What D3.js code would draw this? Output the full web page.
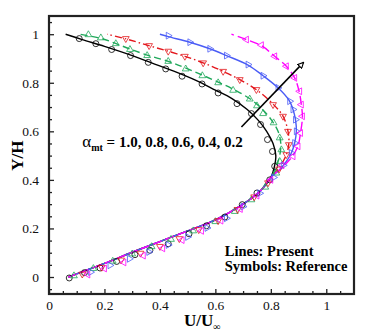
<!DOCTYPE html>
<html>
<head>
<meta charset="utf-8">
<script src="https://cdn.jsdelivr.net/npm/d3@7"></script>
<style>
  body { margin: 0; background: #fff; }
  text { font-family: "Liberation Serif", "DejaVu Serif", serif; }
</style>
</head>
<body>
<div id="chart"></div>
<script>
// chart size
var svgWidth = 374;
var svgHeight = 332;
var margin = { top: 16, right: 20, bottom: 38, left: 49 };
var width = svgWidth - margin.left - margin.right;
var height = svgHeight - margin.top - margin.bottom;

// tick values / labels
var xTicks = [0, 0.2, 0.4, 0.6, 0.8, 1];
var xTickLabels = ["0", "0.2", "0.4", "0.6", "0.8", "1"];
var yTicks = [0, 0.2, 0.4, 0.6, 0.8, 1];
var yTickLabels = ["0", "0.2", "0.4", "0.6", "0.8", "1"];
var xMinor = [0.05, 0.1, 0.15, 0.25, 0.3, 0.35, 0.45, 0.5, 0.55, 0.65, 0.7, 0.75, 0.85, 0.9, 0.95, 1.05];
var yMinor = [-0.05, 0.05, 0.1, 0.15, 0.25, 0.3, 0.35, 0.45, 0.5, 0.55, 0.65, 0.7, 0.75, 0.85, 0.9, 0.95, 1.05];

// lines (present): [U/Uinf, Y/H]
var lineLower = [[0.07,0],[0.2,0.056],[0.3,0.102],[0.4,0.146],[0.5,0.19],[0.6,0.235],[0.7,0.3],[0.76,0.352],[0.8,0.41]];
var upperBlack = [[0.812,0.45],[0.818,0.5],[0.808,0.55],[0.785,0.6],[0.755,0.645],[0.715,0.69],[0.66,0.735],[0.6,0.77],[0.53,0.81],[0.45,0.848],[0.37,0.882],[0.29,0.916],[0.2,0.95],[0.12,0.978],[0.06,1.0]];
var upperGreen = [[0.818,0.45],[0.832,0.5],[0.836,0.55],[0.826,0.6],[0.8,0.65],[0.77,0.69],[0.73,0.73],[0.67,0.77],[0.61,0.803],[0.55,0.833],[0.49,0.862],[0.43,0.888],[0.354,0.914],[0.29,0.94],[0.24,0.962],[0.19,0.982],[0.11,1.0]];
var upperRed = [[0.83,0.45],[0.856,0.504],[0.865,0.55],[0.862,0.6],[0.845,0.66],[0.81,0.71],[0.75,0.77],[0.69,0.812],[0.628,0.847],[0.556,0.882],[0.49,0.909],[0.43,0.93],[0.36,0.953],[0.28,0.98],[0.21,1.0]];
var upperBlue = [[0.83,0.44],[0.856,0.476],[0.874,0.511],[0.886,0.552],[0.892,0.6],[0.889,0.648],[0.88,0.69],[0.866,0.727],[0.826,0.779],[0.772,0.829],[0.718,0.873],[0.64,0.912],[0.58,0.94],[0.508,0.967],[0.43,0.99],[0.4,1.0]];
var upperMagenta = [[0.835,0.445],[0.862,0.476],[0.88,0.5],[0.898,0.54],[0.907,0.593],[0.914,0.66],[0.91,0.71],[0.902,0.765],[0.886,0.82],[0.856,0.868],[0.814,0.909],[0.766,0.953],[0.712,0.978],[0.658,1.0]];

// symbols (reference)
var symBlack = [[0.073,-0.004],[0.128,0.018],[0.184,0.037],[0.244,0.064],[0.31,0.092],[0.364,0.11],[0.43,0.137],[0.505,0.178],[0.568,0.211],[0.634,0.247],[0.697,0.298],[0.75,0.346],[0.796,0.40],[0.814,0.456],[0.806,0.517],[0.788,0.566],[0.763,0.628],[0.73,0.673],[0.678,0.714],[0.61,0.758],[0.552,0.795],[0.48,0.827],[0.421,0.857],[0.358,0.884],[0.294,0.912],[0.226,0.937],[0.169,0.961],[0.109,0.982]];
var symGreen = [[0.09,0.005],[0.16,0.035],[0.23,0.065],[0.3,0.095],[0.37,0.125],[0.44,0.155],[0.52,0.19],[0.6,0.228],[0.67,0.27],[0.73,0.318],[0.78,0.37],[0.82,0.428],[0.832,0.476],[0.838,0.524],[0.832,0.573],[0.81,0.635],[0.772,0.673],[0.75,0.705],[0.724,0.733],[0.664,0.769],[0.61,0.8],[0.553,0.829],[0.493,0.857],[0.43,0.888],[0.354,0.912],[0.292,0.937],[0.241,0.961],[0.187,0.985],[0.142,0.998]];
var symRed = [[0.12,0.012],[0.19,0.04],[0.26,0.07],[0.33,0.098],[0.4,0.126],[0.47,0.158],[0.54,0.195],[0.61,0.232],[0.68,0.278],[0.74,0.33],[0.79,0.388],[0.83,0.445],[0.856,0.504],[0.865,0.545],[0.862,0.6],[0.844,0.662],[0.808,0.71],[0.748,0.772],[0.688,0.813],[0.628,0.847],[0.556,0.882],[0.49,0.909],[0.43,0.93],[0.361,0.953],[0.277,0.982]];
var symBlue = [[0.15,0.02],[0.22,0.048],[0.29,0.075],[0.36,0.103],[0.43,0.132],[0.5,0.165],[0.57,0.202],[0.64,0.242],[0.7,0.29],[0.76,0.345],[0.81,0.41],[0.845,0.46],[0.874,0.511],[0.886,0.552],[0.892,0.6],[0.889,0.648],[0.88,0.69],[0.868,0.724],[0.826,0.779],[0.772,0.829],[0.718,0.875],[0.64,0.912],[0.58,0.94],[0.508,0.967],[0.43,0.994]];
var symMagenta = [[0.14,0.01],[0.2,0.035],[0.27,0.06],[0.34,0.088],[0.41,0.118],[0.48,0.152],[0.55,0.19],[0.62,0.232],[0.69,0.28],[0.75,0.335],[0.8,0.4],[0.84,0.46],[0.88,0.497],[0.898,0.538],[0.907,0.593],[0.914,0.662],[0.91,0.71],[0.904,0.765],[0.886,0.82],[0.856,0.868],[0.814,0.909],[0.766,0.955],[0.712,0.978]];

var arrowFrom = [0.694, 0.618];
var arrowTo = [0.918, 0.884];

var series = [
  { upper: upperBlack,   sym: symBlack,   color: "#000000", dash: null,           shape: "circle" },
  { upper: upperGreen,   sym: symGreen,   color: "#1fa85a", dash: "7,4",          shape: "up" },
  { upper: upperRed,     sym: symRed,     color: "#e3161c", dash: "7,3,1.5,3",    shape: "down" },
  { upper: upperBlue,    sym: symBlue,    color: "#4a5cf6", dash: null,           shape: "right" },
  { upper: upperMagenta, sym: symMagenta, color: "#ff00ff", dash: "9,4",          shape: "left" }
];

var svg = d3.select("#chart").append("svg")
  .attr("width", svgWidth)
  .attr("height", svgHeight);

var chartGroup = svg.append("g")
  .attr("transform", `translate(${margin.left}, ${margin.top})`);

var xScale = d3.scaleLinear().domain([0, 1.1]).range([0, width]);
var yScale = d3.scaleLinear().domain([-0.07, 1.075]).range([height, 0]);

svg.append("defs").append("clipPath").attr("id", "clip")
  .append("rect").attr("width", width).attr("height", height);

// axes (ticks inward)
var bottomAxis = d3.axisBottom(xScale).tickValues(xTicks)
  .tickFormat((d, i) => xTickLabels[i]).tickSizeInner(-5).tickSizeOuter(0).tickPadding(6);
var leftAxis = d3.axisLeft(yScale).tickValues(yTicks)
  .tickFormat((d, i) => yTickLabels[i]).tickSizeInner(-5).tickSizeOuter(0).tickPadding(10);

chartGroup.append("g").attr("transform", `translate(0, ${height})`).call(bottomAxis);
chartGroup.append("g").call(leftAxis);
chartGroup.append("g").attr("transform", `translate(0, ${height})`)
  .call(d3.axisBottom(xScale).tickValues(xMinor).tickFormat("").tickSizeInner(-3).tickSizeOuter(0));
chartGroup.append("g")
  .call(d3.axisLeft(yScale).tickValues(yMinor).tickFormat("").tickSizeInner(-3).tickSizeOuter(0));

chartGroup.selectAll(".domain").remove();
chartGroup.selectAll(".tick line").attr("stroke", "#222").attr("stroke-width", 1.3);
chartGroup.selectAll(".tick text").attr("font-size", 13.5).attr("fill", "#111");

// curves
var line = d3.line()
  .x(d => xScale(d[0]))
  .y(d => yScale(d[1]))
  .curve(d3.curveCatmullRom.alpha(0.5));

var plot = chartGroup.append("g").attr("clip-path", "url(#clip)");

var tri = d3.symbol().type(d3.symbolTriangle).size(20);
var rot = { up: 0, down: 180, right: 90, left: -90 };

series.forEach(function(s) {
  plot.append("path")
    .datum(lineLower.concat(s.upper))
    .attr("d", line)
    .attr("fill", "none")
    .attr("stroke", s.color)
    .attr("stroke-width", 1.4)
    .attr("stroke-dasharray", s.dash);
});

series.forEach(function(s) {
  var g = plot.append("g");
  if (s.shape === "circle") {
    g.selectAll("circle").data(s.sym).enter().append("circle")
      .attr("cx", d => xScale(d[0]))
      .attr("cy", d => yScale(d[1]))
      .attr("r", 3)
      .attr("fill", "none")
      .attr("stroke", s.color)
      .attr("stroke-width", 0.8);
  } else {
    g.selectAll("path").data(s.sym).enter().append("path")
      .attr("d", tri)
      .attr("transform", d => `translate(${xScale(d[0])},${yScale(d[1])}) rotate(${rot[s.shape]})`)
      .attr("fill", "none")
      .attr("stroke", s.color)
      .attr("stroke-width", 0.8);
  }
});

// arrow
svg.select("defs").append("marker")
  .attr("id", "head")
  .attr("viewBox", "0 0 10 10")
  .attr("refX", 9).attr("refY", 5)
  .attr("markerWidth", 7).attr("markerHeight", 7)
  .attr("markerUnits", "userSpaceOnUse")
  .attr("orient", "auto")
  .append("path")
  .attr("d", "M1,1 L9,5 L1,9 Z")
  .attr("fill", "#fff")
  .attr("stroke", "#000")
  .attr("stroke-width", 1.6);

chartGroup.append("line")
  .attr("x1", xScale(arrowFrom[0])).attr("y1", yScale(arrowFrom[1]))
  .attr("x2", xScale(arrowTo[0])).attr("y2", yScale(arrowTo[1]))
  .attr("stroke", "#000")
  .attr("stroke-width", 1.6)
  .attr("marker-end", "url(#head)");

// frame
chartGroup.append("rect")
  .attr("width", width).attr("height", height)
  .attr("fill", "none")
  .attr("stroke", "#222")
  .attr("stroke-width", 2.2);

// annotation
var ann = chartGroup.append("text")
  .attr("x", xScale(0.12)).attr("y", yScale(0.537))
  .attr("font-size", 15).attr("font-weight", "bold");
ann.append("tspan").attr("font-weight", "normal").attr("font-size", 17).text("α");
ann.append("tspan").attr("font-size", 10).attr("dy", 4).text("mt");
ann.append("tspan").attr("dy", -4).text(" = 1.0, 0.8, 0.6, 0.4, 0.2");

chartGroup.append("text")
  .attr("x", xScale(0.634)).attr("y", yScale(0.088))
  .attr("font-size", 14.5).attr("font-weight", "bold")
  .text("Lines: Present");
chartGroup.append("text")
  .attr("x", xScale(0.634)).attr("y", yScale(0.026))
  .attr("font-size", 14.5).attr("font-weight", "bold")
  .text("Symbols: Reference");

// axis titles
var xt = svg.append("text")
  .attr("x", 184).attr("y", 326)
  .attr("font-size", 17).attr("font-weight", "bold");
xt.append("tspan").text("U/U");
xt.append("tspan").attr("font-size", 10).attr("dy", 4).text("∞");

svg.append("text")
  .attr("transform", `translate(23, ${margin.top + yScale(0.5)}) rotate(-90)`)
  .attr("text-anchor", "middle")
  .attr("font-size", 17).attr("font-weight", "bold")
  .text("Y/H");
</script>
</body>
</html>
